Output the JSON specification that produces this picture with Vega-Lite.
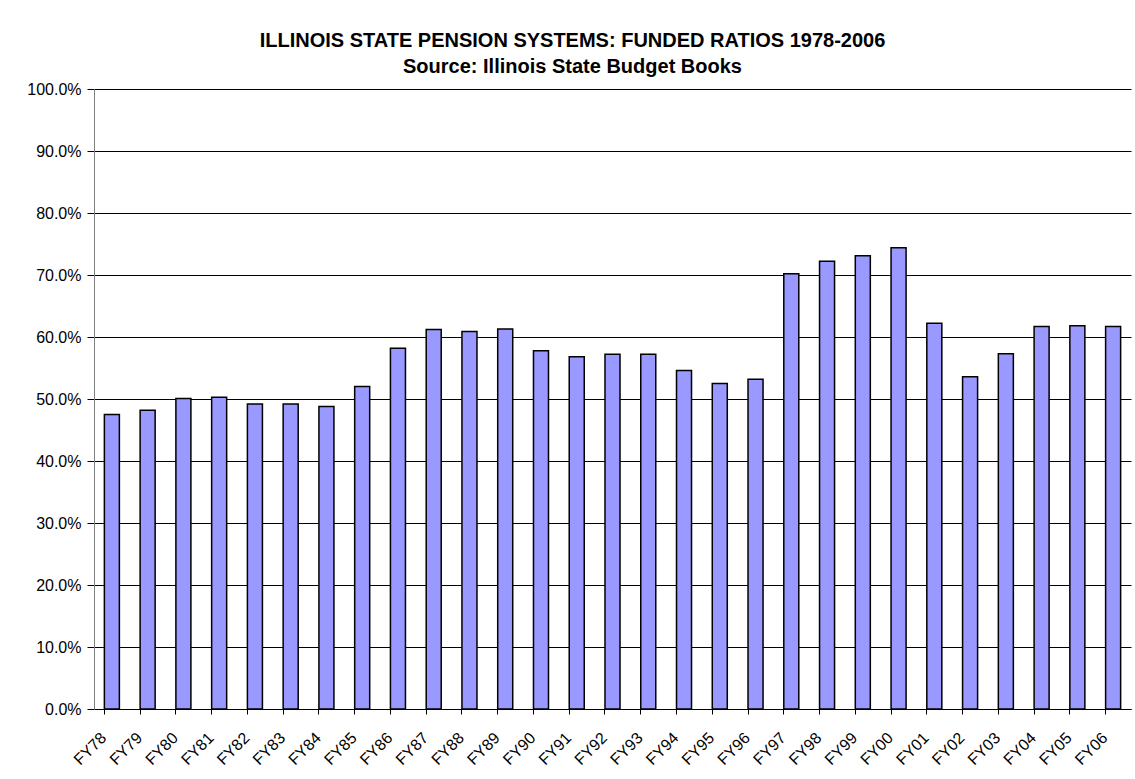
{
  "$schema": "https://vega.github.io/schema/vega-lite/v6.json",
  "width": 1037,
  "height": 620,
  "autosize": {"type": "none"},
  "padding": {"left": 94, "top": 89, "right": 4, "bottom": 70},
  "background": "white",
  "title": {
    "text": ["ILLINOIS STATE PENSION SYSTEMS: FUNDED RATIOS 1978-2006", "Source: Illinois State Budget Books"],
    "font": "Liberation Sans",
    "fontSize": 20,
    "fontWeight": "bold",
    "color": "black",
    "anchor": "middle",
    "dx": -40,
    "lineHeight": 26,
    "offset": 4
  },
  "data": {
    "values": [
      {"fy": "FY78", "ratio": 0.475},
      {"fy": "FY79", "ratio": 0.482},
      {"fy": "FY80", "ratio": 0.501},
      {"fy": "FY81", "ratio": 0.503},
      {"fy": "FY82", "ratio": 0.492},
      {"fy": "FY83", "ratio": 0.492},
      {"fy": "FY84", "ratio": 0.488},
      {"fy": "FY85", "ratio": 0.520},
      {"fy": "FY86", "ratio": 0.582},
      {"fy": "FY87", "ratio": 0.612},
      {"fy": "FY88", "ratio": 0.609},
      {"fy": "FY89", "ratio": 0.613},
      {"fy": "FY90", "ratio": 0.578},
      {"fy": "FY91", "ratio": 0.568},
      {"fy": "FY92", "ratio": 0.572},
      {"fy": "FY93", "ratio": 0.572},
      {"fy": "FY94", "ratio": 0.546},
      {"fy": "FY95", "ratio": 0.525},
      {"fy": "FY96", "ratio": 0.532},
      {"fy": "FY97", "ratio": 0.702},
      {"fy": "FY98", "ratio": 0.722},
      {"fy": "FY99", "ratio": 0.731},
      {"fy": "FY00", "ratio": 0.744},
      {"fy": "FY01", "ratio": 0.622},
      {"fy": "FY02", "ratio": 0.536},
      {"fy": "FY03", "ratio": 0.573},
      {"fy": "FY04", "ratio": 0.617},
      {"fy": "FY05", "ratio": 0.618},
      {"fy": "FY06", "ratio": 0.617}
    ]
  },
  "mark": {"type": "bar", "fill": "#9999FF", "stroke": "black", "strokeWidth": 1.5},
  "encoding": {
    "x": {
      "field": "fy",
      "type": "nominal",
      "sort": null,
      "title": null,
      "scale": {"paddingInner": 0.58, "paddingOuter": 0.29},
      "axis": {
        "labelAngle": -45,
        "labelAlign": "right",
        "labelBaseline": "middle",
        "labelFont": "Liberation Sans",
        "labelFontSize": 16,
        "labelColor": "black",
        "labelPadding": 21,
        "labelOffset": -8,
        "bandPosition": 0,
        "tickSize": 5,
        "tickColor": "black",
        "domainColor": "black",
        "domainWidth": 1,
        "grid": false
      }
    },
    "y": {
      "field": "ratio",
      "type": "quantitative",
      "title": null,
      "scale": {"domain": [0, 1], "nice": false},
      "axis": {
        "values": [0, 0.1, 0.2, 0.3, 0.4, 0.5, 0.6, 0.7, 0.8, 0.9, 1.0],
        "format": ".1%",
        "labelFont": "Liberation Sans",
        "labelFontSize": 16,
        "labelColor": "black",
        "labelPadding": 6,
        "tickSize": 7,
        "tickColor": "black",
        "domainColor": "#808080",
        "domainWidth": 1,
        "grid": true,
        "gridColor": "black",
        "gridWidth": 1,
        "gridOpacity": 1
      }
    }
  },
  "config": {
    "view": {"stroke": null},
    "axis": {"labelFlush": false, "labelOverlap": false}
  }
}
